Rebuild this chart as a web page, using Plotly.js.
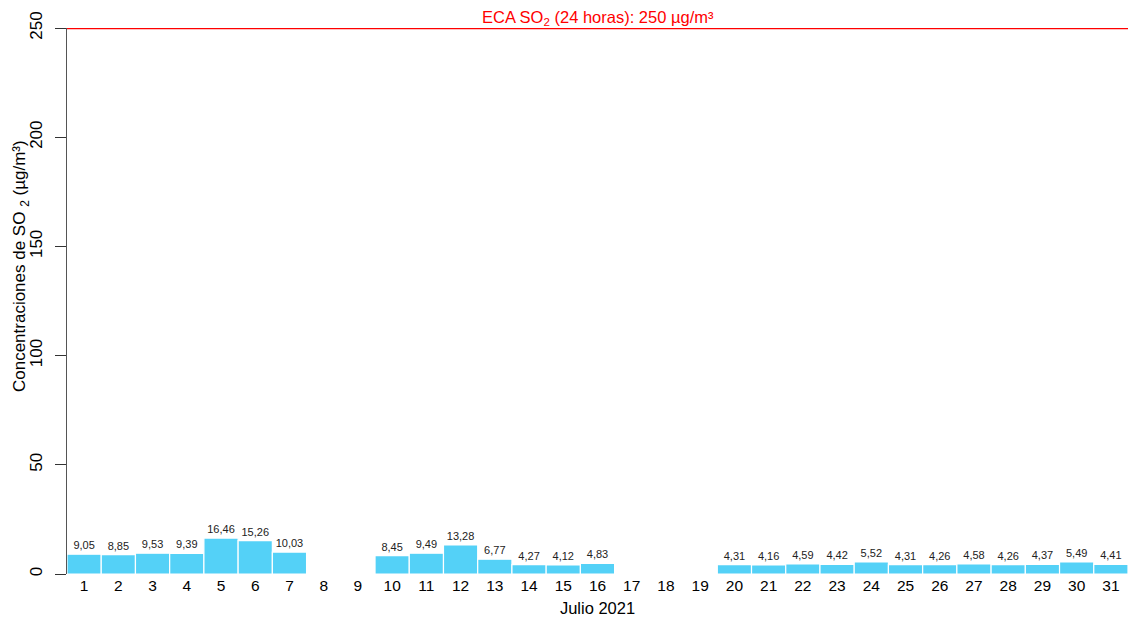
<!DOCTYPE html>
<html>
<head>
<meta charset="utf-8">
<script src="https://cdn.plot.ly/plotly-3.0.1.min.js"></script>
<style>html,body{margin:0;padding:0;background:#fff;}#chart{width:1128px;height:619px;}</style>
</head>
<body>
<div id="chart"></div>
<script>
const days = [1,2,3,4,5,6,7,8,9,10,11,12,13,14,15,16,17,18,19,20,21,22,23,24,25,26,27,28,29,30,31];
const so2 = [9.05,8.85,9.53,9.39,16.46,15.26,10.03,null,null,8.45,9.49,13.28,6.77,4.27,4.12,4.83,null,null,null,4.31,4.16,4.59,4.42,5.52,4.31,4.26,4.58,4.26,4.37,5.49,4.41];
const ecaLimit = 250;
const yTicks = [0,50,100,150,200,250];
const yTitle = 'Concentraciones de SO <sub>2</sub> (µg/m³)';
const xTitle = 'Julio 2021';
const ecaText = 'ECA SO<sub>2</sub> (24 horas): 250 µg/m³';

const labels = so2.map(v => v === null ? '' : v.toFixed(2).replace('.', ','));
const font = 'Liberation Sans, Arial, sans-serif';

const trace = {
  type: 'bar',
  x: days,
  y: so2,
  text: labels,
  textposition: 'outside',
  constraintext: 'none',
  cliponaxis: false,
  textfont: {family: font, size: 11, color: '#222'},
  marker: {color: '#54D1F7', line: {color: '#ffffff', width: 1.2}},
  hoverinfo: 'x+y'
};

const layout = {
  width: 1128, height: 619,
  margin: {l: 67, r: 0, t: 28, b: 45},
  paper_bgcolor: '#fff', plot_bgcolor: '#fff',
  bargap: 0,
  showlegend: false,
  font: {family: font, color: '#000'},
  xaxis: {
    range: [0.5, 31.5],
    tickvals: days,
    ticktext: days.map(String),
    showline: false, showgrid: false, zeroline: false, ticks: '',
    tickfont: {size: 15.5, color: '#000'},
    title: {text: xTitle, font: {size: 16.5, color: '#000'}, standoff: 9}
  },
  yaxis: {
    range: [0, ecaLimit],
    tickvals: yTicks,
    showline: true, linecolor: '#555', linewidth: 1,
    showgrid: false, zeroline: false,
    ticks: 'outside', ticklen: 11, tickcolor: '#333',
    tickangle: -90,
    ticklabelstandoff: 6,
    tickfont: {size: 17, color: '#000'}
  },
  shapes: [{
    type: 'line', xref: 'paper', x0: 0, x1: 1, yref: 'y', y0: ecaLimit, y1: ecaLimit,
    line: {color: '#ff0000', width: 2.5}
  }],
  annotations: [{
    xref: 'paper', x: 0.5, yref: 'y', y: ecaLimit, yanchor: 'bottom', showarrow: false,
    text: ecaText,
    font: {family: font, size: 16.5, color: '#ff0000'}, yshift: -2
  }, {
    xref: 'paper', x: 0, xshift: -46, xanchor: 'center',
    yref: 'paper', y: 0.564, yanchor: 'middle',
    textangle: -90, showarrow: false,
    text: yTitle,
    font: {family: font, size: 17, color: '#000'}
  }]
};

Plotly.newPlot('chart', [trace], layout, {displayModeBar: false, staticPlot: true});
</script>
</body>
</html>
